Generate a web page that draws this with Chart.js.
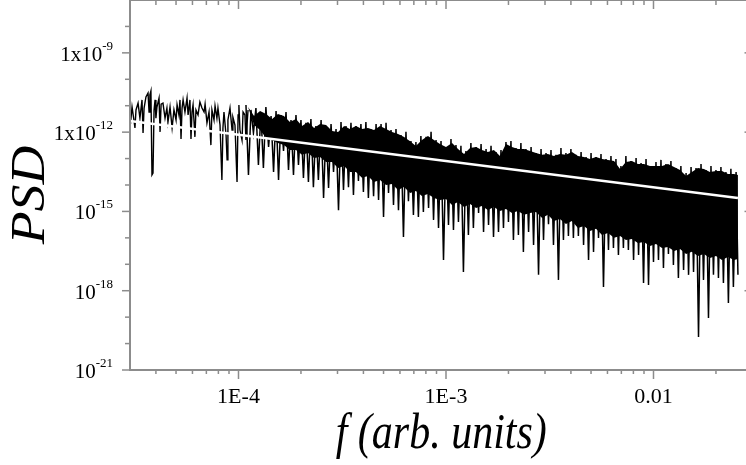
<!DOCTYPE html>
<html>
<head>
<meta charset="utf-8">
<script src="https://cdn.jsdelivr.net/npm/chart.js@4"></script>
<style>
  html, body { margin: 0; padding: 0; background: #fff; overflow: hidden; }
  #wrap { position: relative; width: 760px; height: 465px; }
</style>
</head>
<body>
<div id="wrap"><canvas id="psdChart" width="760" height="465"></canvas></div>
<script>
// all values are log10 of f and of PSD

// low-frequency part, single trace still visible
const leftFLog = [
  -4.523, -4.518, -4.513, -4.504, -4.499, -4.494, -4.484, -4.475, -4.465, -4.460,
  -4.455, -4.446, -4.436, -4.431, -4.427, -4.422, -4.417, -4.412, -4.407, -4.402,
  -4.398, -4.393, -4.383, -4.378, -4.373, -4.364, -4.354, -4.345, -4.340, -4.330,
  -4.320, -4.311, -4.301, -4.296, -4.287, -4.282, -4.277, -4.272, -4.267, -4.258,
  -4.248, -4.243, -4.234, -4.229, -4.224, -4.219, -4.210, -4.205, -4.195, -4.186,
  -4.176, -4.166, -4.161, -4.152, -4.142, -4.133, -4.128, -4.118, -4.113, -4.104,
  -4.099, -4.089, -4.080, -4.075, -4.070, -4.060, -4.055, -4.051, -4.041, -4.031,
  -4.027, -4.017, -4.007, -4.002, -3.998, -3.993, -3.983, -3.978, -3.969, -3.964,
  -3.954
];
const leftLog = [
  -11.16, -11.47, -11.05, -11.54, -11.84, -11.16, -10.90, -11.47, -10.78, -12.03,
  -11.09, -10.67, -10.52, -11.24, -10.59, -10.44, -13.62, -13.55, -11.16, -10.78,
  -11.47, -11.05, -10.71, -11.99, -10.94, -10.90, -11.47, -11.09, -11.62, -11.05,
  -11.84, -11.16, -11.54, -10.97, -11.35, -10.78, -12.26, -11.09, -10.78, -11.24,
  -10.71, -11.35, -10.78, -12.26, -11.24, -10.97, -12.18, -11.16, -11.35, -10.86,
  -11.09, -11.24, -10.94, -11.65, -11.24, -12.49, -11.16, -11.54, -11.01, -11.47,
  -11.09, -11.73, -13.81, -11.84, -11.24, -12.11, -13.05, -11.54, -11.09, -11.92,
  -11.43, -11.73, -13.89, -11.35, -10.97, -11.92, -12.30, -11.24, -11.35, -12.30,
  -11.16
];

// dense part: zigzag trace, high and low points in turn
const denseFLog = [
  -3.964, -3.952, -3.940, -3.928, -3.916, -3.904, -3.892, -3.880, -3.868, -3.855,
  -3.843, -3.831, -3.819, -3.807, -3.795, -3.783, -3.771, -3.759, -3.747, -3.735,
  -3.723, -3.711, -3.699, -3.687, -3.675, -3.663, -3.651, -3.639, -3.627, -3.615,
  -3.602, -3.590, -3.578, -3.566, -3.554, -3.542, -3.530, -3.518, -3.506, -3.494,
  -3.482, -3.470, -3.458, -3.446, -3.434, -3.422, -3.410, -3.398, -3.386, -3.374,
  -3.362, -3.349, -3.337, -3.325, -3.313, -3.301, -3.289, -3.277, -3.265, -3.253,
  -3.241, -3.229, -3.217, -3.205, -3.193, -3.181, -3.169, -3.157, -3.145, -3.133,
  -3.121, -3.109, -3.096, -3.084, -3.072, -3.060, -3.048, -3.036, -3.024, -3.012,
  -3.000, -2.988, -2.976, -2.964, -2.952, -2.940, -2.928, -2.916, -2.904, -2.892,
  -2.880, -2.868, -2.855, -2.843, -2.831, -2.819, -2.807, -2.795, -2.783, -2.771,
  -2.759, -2.747, -2.735, -2.723, -2.711, -2.699, -2.687, -2.675, -2.663, -2.651,
  -2.639, -2.627, -2.615, -2.602, -2.590, -2.578, -2.566, -2.554, -2.542, -2.530,
  -2.518, -2.506, -2.494, -2.482, -2.470, -2.458, -2.446, -2.434, -2.422, -2.410,
  -2.398, -2.386, -2.374, -2.362, -2.349, -2.337, -2.325, -2.313, -2.301, -2.289,
  -2.277, -2.265, -2.253, -2.241, -2.229, -2.217, -2.205, -2.193, -2.181, -2.169,
  -2.157, -2.145, -2.133, -2.121, -2.109, -2.096, -2.084, -2.072, -2.060, -2.048,
  -2.036, -2.024, -2.012, -2.000, -1.988, -1.976, -1.964, -1.952, -1.940, -1.928,
  -1.916, -1.904, -1.892, -1.880, -1.868, -1.855, -1.843, -1.831, -1.819, -1.807,
  -1.795, -1.783, -1.771, -1.759, -1.747, -1.735, -1.723, -1.711, -1.699, -1.687,
  -1.675, -1.663, -1.651, -1.639, -1.627, -1.615, -1.602, -1.593
];
const denseLog = [
  -10.97, -13.62, -11.16, -12.03, -11.09, -13.24, -11.24, -13.36, -11.05, -12.56,
  -11.39, -13.51, -11.20, -13.81, -11.35, -12.71, -11.24, -13.43, -11.54, -13.62,
  -11.35, -13.24, -11.54, -13.73, -11.65, -13.89, -11.50, -14.08, -11.77, -13.81,
  -11.54, -14.49, -11.77, -14.11, -11.69, -13.51, -11.88, -14.95, -11.62, -14.19,
  -11.77, -14.08, -11.65, -14.38, -11.77, -13.85, -11.69, -14.26, -11.62, -14.49,
  -11.88, -14.42, -11.69, -14.57, -11.69, -15.21, -11.65, -14.30, -11.92, -14.76,
  -11.88, -14.95, -12.11, -15.97, -11.99, -14.61, -12.34, -15.13, -12.37, -15.21,
  -12.15, -15.02, -12.18, -14.87, -11.99, -15.32, -12.30, -15.63, -12.34, -16.84,
  -12.56, -15.51, -12.26, -15.70, -12.49, -15.40, -12.52, -17.29, -12.71, -15.89,
  -12.41, -15.63, -12.56, -15.06, -12.45, -15.78, -12.64, -15.51, -12.52, -15.97,
  -12.75, -15.78, -12.68, -15.63, -12.37, -15.40, -12.34, -16.08, -12.60, -15.89,
  -12.41, -16.53, -12.64, -15.78, -12.56, -16.27, -12.79, -17.40, -12.64, -16.08,
  -12.79, -15.48, -12.68, -16.27, -12.86, -17.59, -12.60, -16.08, -12.79, -15.93,
  -12.64, -16.00, -12.86, -15.93, -12.75, -16.27, -12.94, -16.84, -12.79, -16.53,
  -12.94, -16.00, -12.83, -17.86, -13.02, -16.46, -12.90, -16.38, -13.02, -16.65,
  -13.28, -16.38, -12.90, -16.46, -13.09, -16.84, -12.98, -16.65, -13.17, -17.71,
  -13.02, -17.78, -13.28, -16.91, -13.13, -16.84, -13.05, -17.14, -13.21, -16.61,
  -13.09, -17.03, -13.36, -17.52, -13.28, -17.22, -13.55, -17.40, -13.32, -17.29,
  -13.36, -19.75, -13.21, -17.59, -13.43, -19.03, -13.28, -17.40, -13.43, -17.52,
  -13.32, -17.71, -13.51, -18.46, -13.39, -17.86, -13.51, -17.40
];

// solid body of the dense part: upper and lower edge
const bandFLog = [
  -3.954, -3.925, -3.896, -3.867, -3.838, -3.810, -3.781, -3.752, -3.723, -3.694,
  -3.665, -3.636, -3.607, -3.578, -3.549, -3.520, -3.491, -3.463, -3.434, -3.405,
  -3.376, -3.347, -3.318, -3.289, -3.260, -3.231, -3.202, -3.173, -3.145, -3.116,
  -3.087, -3.058, -3.029, -3.000, -2.971, -2.942, -2.913, -2.884, -2.855, -2.827,
  -2.798, -2.769, -2.740, -2.711, -2.682, -2.653, -2.624, -2.595, -2.566, -2.537,
  -2.509, -2.480, -2.451, -2.422, -2.393, -2.364, -2.335, -2.306, -2.277, -2.248,
  -2.219, -2.190, -2.161, -2.133, -2.104, -2.075, -2.046, -2.017, -1.988, -1.959,
  -1.930, -1.901, -1.872, -1.843, -1.815, -1.786, -1.757, -1.728, -1.699, -1.670,
  -1.641, -1.612, -1.593
];
const bandTop = [
  -11.05, -11.39, -11.20, -11.31, -11.50, -11.31, -11.39, -11.62, -11.50, -11.77,
  -11.62, -11.84, -11.69, -11.73, -11.96, -11.99, -11.77, -11.88, -11.77, -11.88,
  -11.84, -11.92, -11.77, -11.88, -11.99, -12.07, -12.18, -12.34, -12.52, -12.30,
  -12.15, -12.30, -12.45, -12.56, -12.41, -12.64, -12.83, -12.60, -12.56, -12.68,
  -12.75, -12.68, -12.90, -12.45, -12.56, -12.64, -12.64, -12.71, -12.79, -12.86,
  -12.83, -12.90, -12.83, -12.86, -12.75, -12.90, -12.94, -13.02, -12.94, -13.02,
  -13.05, -13.09, -13.39, -13.13, -13.09, -13.21, -13.21, -13.28, -13.28, -13.28,
  -13.21, -13.32, -13.43, -13.66, -13.51, -13.36, -13.39, -13.51, -13.47, -13.47,
  -13.58, -13.58, -13.62
];
const bandLow = [
  -11.05, -11.73, -11.92, -12.22, -12.30, -12.41, -12.49, -12.68, -12.68, -12.86,
  -12.79, -12.98, -12.94, -13.13, -13.13, -13.36, -13.28, -13.51, -13.51, -13.73,
  -13.66, -13.89, -13.81, -14.00, -13.96, -14.19, -14.08, -14.30, -14.23, -14.42,
  -14.34, -14.49, -14.57, -14.53, -14.76, -14.64, -14.83, -14.72, -14.87, -14.79,
  -14.95, -14.83, -14.98, -14.91, -15.06, -14.98, -15.13, -15.06, -15.02, -15.25,
  -15.13, -15.36, -15.29, -15.48, -15.36, -15.63, -15.55, -15.74, -15.66, -15.89,
  -15.82, -16.00, -15.93, -16.08, -16.04, -16.19, -16.16, -16.31, -16.23, -16.38,
  -16.35, -16.50, -16.42, -16.61, -16.53, -16.69, -16.61, -16.76, -16.69, -16.84,
  -16.72, -16.84, -16.80
];

// power-law fit (white line)
const fitFLog = [-4.523, -1.593];
const fitLog = [-11.58, -14.49];

// axes
const xMin = 3e-5, xMax = 0.03;
const yMin = 1e-21, yMax = 1e-7;
const xMajor = [1e-4, 1e-3, 1e-2];
const xMajorText = ['1E-4', '1E-3', '0.01'];
const xMinor = [4e-5, 5e-5, 6e-5, 7e-5, 8e-5, 9e-5,
  2e-4, 3e-4, 4e-4, 5e-4, 6e-4, 7e-4, 8e-4, 9e-4,
  2e-3, 3e-3, 4e-3, 5e-3, 6e-3, 7e-3, 8e-3, 9e-3, 2e-2];
const yMajorExp = [-21, -18, -15, -12, -9];
const yMajorBase = ['10', '10', '10', '1x10', '1x10'];
const yMinorExp = [-20, -19, -17, -16, -14, -13, -11, -10, -8];

const toPoints = (fLogs, pLogs) => fLogs.map((lf, i) => ({ x: 10 ** lf, y: 10 ** pLogs[i] }));

const axisColor = '#8c8c8c';
const serif = '"Liberation Serif", "Times New Roman", serif';

const frameAndLabels = {
  id: 'frameAndLabels',
  afterDraw(chart) {
    const { ctx, chartArea: a, scales: { x, y } } = chart;
    ctx.save();
    ctx.strokeStyle = axisColor;
    ctx.lineWidth = 1.5;
    const seg = (x1, y1, x2, y2) => { ctx.beginPath(); ctx.moveTo(x1, y1); ctx.lineTo(x2, y2); ctx.stroke(); };

    xMajor.forEach(v => {
      const px = x.getPixelForValue(v);
      seg(px, a.bottom, px, a.bottom + 9);
      seg(px, a.top, px, a.top + 9);
    });
    xMinor.forEach(v => {
      const px = x.getPixelForValue(v);
      seg(px, a.bottom, px, a.bottom + 4);
      seg(px, a.top, px, a.top + 5);
    });
    yMajorExp.forEach(e => {
      const py = y.getPixelForValue(10 ** e);
      seg(a.left - 8, py, a.left, py);
      seg(a.right - 8, py, a.right, py);
    });
    yMinorExp.forEach(e => {
      const py = y.getPixelForValue(10 ** e);
      seg(a.left - 5, py, a.left, py);
      seg(a.right - 5, py, a.right, py);
    });

    ctx.lineWidth = 2;
    ctx.strokeRect(a.left, a.top, a.right - a.left, a.bottom - a.top);

    // tick labels
    ctx.fillStyle = '#000';
    ctx.textBaseline = 'alphabetic';
    const labelRight = a.left - 17;
    yMajorExp.forEach((e, i) => {
      const py = y.getPixelForValue(10 ** e);
      const sup = String(e);
      ctx.font = '13px ' + serif;
      const supW = ctx.measureText(sup).width;
      ctx.textAlign = 'left';
      ctx.fillText(sup, labelRight - supW, py - 3);
      ctx.font = '21px ' + serif;
      ctx.textAlign = 'right';
      ctx.fillText(yMajorBase[i], labelRight - supW, py + 8);
    });
    ctx.font = '22px ' + serif;
    ctx.textAlign = 'center';
    xMajor.forEach((v, i) => {
      ctx.fillText(xMajorText[i], x.getPixelForValue(v), a.bottom + 33);
    });

    // axis titles (slightly taller than wide, as in the original export)
    ctx.save();
    ctx.translate((a.left + a.right) / 2, 448);
    ctx.scale(1, 1.2);
    ctx.font = 'italic 42px ' + serif;
    ctx.fillText('f (arb. units)', 0, 0);
    ctx.restore();

    ctx.translate(44, 195);
    ctx.rotate(-Math.PI / 2);
    ctx.scale(1.12, 1);
    ctx.font = 'italic 48px ' + serif;
    ctx.fillText('PSD', 0, 0);
    ctx.restore();
  }
};

new Chart(document.getElementById('psdChart'), {
  type: 'line',
  data: {
    datasets: [
      {
        label: 'fit',
        data: toPoints(fitFLog, fitLog),
        borderColor: '#ffffff',
        borderWidth: 2.5,
        order: 0
      },
      {
        label: 'PSD low f',
        data: toPoints(leftFLog, leftLog),
        borderColor: '#000000',
        borderWidth: 1.4,
        order: 1
      },
      {
        label: 'PSD dense',
        data: toPoints(denseFLog, denseLog),
        borderColor: '#000000',
        borderWidth: 1.5,
        order: 1
      },
      {
        label: 'band top',
        data: toPoints(bandFLog, bandTop),
        borderColor: 'rgba(0,0,0,0)',
        borderWidth: 0,
        order: 2
      },
      {
        label: 'band low',
        data: toPoints(bandFLog, bandLow),
        borderColor: 'rgba(0,0,0,0)',
        backgroundColor: '#000000',
        borderWidth: 0,
        fill: '-1',
        order: 2
      }
    ]
  },
  options: {
    responsive: false,
    animation: false,
    layout: { padding: { left: 130, right: 7.5, top: 0, bottom: 95 } },
    elements: { point: { radius: 0 }, line: { tension: 0 } },
    scales: {
      x: { type: 'logarithmic', min: xMin, max: xMax, display: false },
      y: { type: 'logarithmic', min: yMin, max: yMax, display: false }
    },
    plugins: {
      legend: { display: false },
      tooltip: { enabled: false }
    }
  },
  plugins: [frameAndLabels]
});
</script>
</body>
</html>
